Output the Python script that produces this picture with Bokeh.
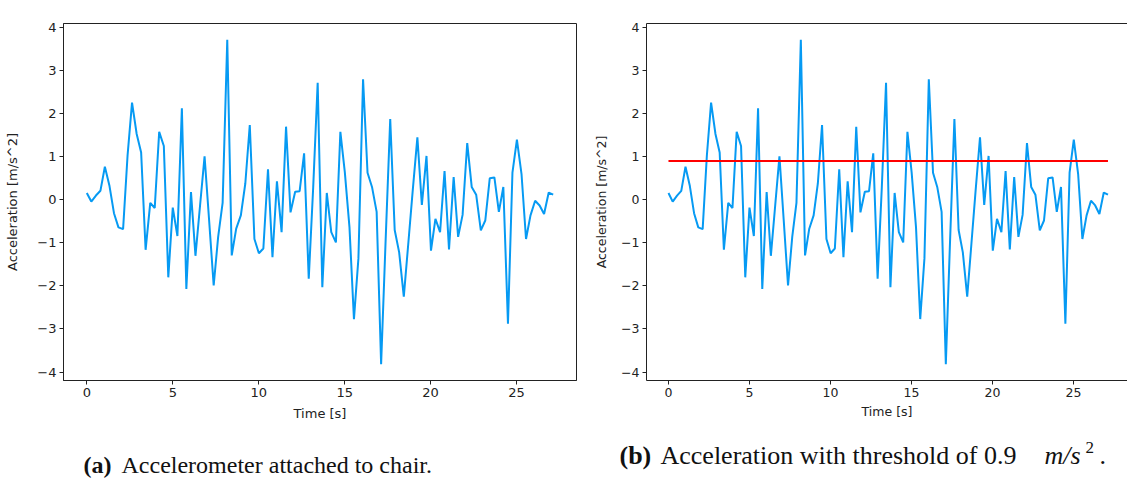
from bokeh.plotting import figure
from bokeh.layouts import column, row
from bokeh.models import Range1d, FixedTicker, LinearAxis
from bokeh.core.properties import value
from bokeh.embed import file_html
from bokeh.resources import INLINE

# ---- data ----
time_s = [0.00, 0.26, 0.53, 0.79, 1.05, 1.32, 1.58, 1.84, 2.11, 2.37,
          2.63, 2.90, 3.16, 3.42, 3.69, 3.95, 4.21, 4.48, 4.74, 5.00,
          5.27, 5.53, 5.79, 6.06, 6.32, 6.59, 6.85, 7.11, 7.38, 7.64,
          7.90, 8.17, 8.43, 8.69, 8.96, 9.22, 9.48, 9.75, 10.01, 10.27,
          10.54, 10.80, 11.06, 11.33, 11.59, 11.85, 12.12, 12.38, 12.64, 12.91,
          13.17, 13.43, 13.70, 13.96, 14.22, 14.49, 14.75, 15.01, 15.28, 15.54,
          15.80, 16.07, 16.33, 16.59, 16.86, 17.12, 17.38, 17.65, 17.91, 18.17,
          18.44, 18.70, 18.96, 19.23, 19.49, 19.76, 20.02, 20.28, 20.55, 20.81,
          21.07, 21.34, 21.60, 21.86, 22.13, 22.39, 22.65, 22.92, 23.18, 23.44,
          23.71, 23.97, 24.23, 24.50, 24.76, 25.02, 25.29, 25.55, 25.81, 26.08,
          26.34, 26.60, 26.87, 27.13]
accel = [0.16, -0.04, 0.10, 0.21, 0.77, 0.32, -0.31, -0.64, -0.68, 1.03,
         2.26, 1.53, 1.10, -1.16, -0.07, -0.19, 1.58, 1.25, -1.80, -0.18,
         -0.84, 2.13, -2.07, 0.18, -1.30, -0.12, 1.01, -0.45, -1.99, -0.86,
         -0.07, 3.72, -1.29, -0.67, -0.36, 0.38, 1.74, -0.91, -1.24, -1.13,
         0.71, -1.33, 0.43, -0.75, 1.70, -0.29, 0.19, 0.20, 1.08, -1.83,
         0.30, 2.72, -2.03, 0.16, -0.75, -0.99, 1.58, 0.64, -0.64, -2.77,
         -1.36, 2.80, 0.63, 0.30, -0.28, -3.82, -0.97, 1.88, -0.70, -1.22,
         -2.25, -1.02, 0.22, 1.45, -0.12, 1.02, -1.18, -0.44, -0.75, 0.67,
         -1.15, 0.53, -0.86, -0.35, 1.32, 0.30, 0.12, -0.71, -0.48, 0.50,
         0.52, -0.28, 0.30, -2.88, 0.63, 1.40, 0.59, -0.91, -0.36, -0.02,
         -0.13, -0.33, 0.17, 0.12]
threshold = 0.9
x_ticks = [0, 5, 10, 15, 20, 25]
y_ticks = [-4, -3, -2, -1, 0, 1, 2, 3, 4]
x_label = "Time [s]"
y_label = "Acceleration [m/s^2]"

LINE = "#069AF3"
span_t = max(time_s) - min(time_s)
span_a = max(accel) - min(accel)
x0 = min(time_s) - 0.05 * span_t
x1 = max(time_s) + 0.05 * span_t
y0 = min(accel) - 0.05 * span_a
y1 = max(accel) + 0.05 * span_a

overrides = {t: ("\u2212%d" % abs(t) if t < 0 else str(t)) for t in y_ticks}


def style(p, fs):
    p.xgrid.visible = False
    p.ygrid.visible = False
    for ax in (p.xaxis[0], p.yaxis[0]):
        ax.major_tick_in = 0
        ax.major_tick_out = 4
        ax.minor_tick_line_color = None
        ax.major_label_standoff = 3
        ax.axis_line_color = "#222222"
        ax.major_tick_line_color = "#222222"
        ax.major_label_text_font = "DejaVu Sans"
        ax.major_label_text_font_size = fs
        ax.major_label_text_color = "#222222"
        ax.axis_label_text_font = "DejaVu Sans"
        ax.axis_label_text_font_size = fs
        ax.axis_label_text_font_style = "normal"
        ax.axis_label_text_color = "#222222"
    p.xaxis[0].ticker = FixedTicker(ticks=x_ticks)
    p.yaxis[0].ticker = FixedTicker(ticks=y_ticks)
    p.yaxis[0].major_label_overrides = overrides
    p.xaxis[0].axis_label = x_label
    p.yaxis[0].axis_label = y_label


TOP_H = 438

# ---- left panel (a) ----
pa = figure(width=590, height=TOP_H, output_backend="svg", toolbar_location=None,
            x_range=Range1d(x0, x1), y_range=Range1d(y0, y1),
            min_border_left=63, min_border_right=14, min_border_top=10,
            min_border_bottom=TOP_H - 391)
style(pa, "13px")
pa.xaxis[0].axis_label_standoff = 6
pa.yaxis[0].axis_label_standoff = 14
pa.outline_line_color = "#222222"
pa.outline_line_alpha = 1
pa.line(time_s, accel, line_color=LINE, line_width=2)

# ---- right panel (b) ----
pb = figure(width=537, height=TOP_H, output_backend="svg", toolbar_location=None,
            x_range=Range1d(x0, x0 + 481 / 16.2), y_range=Range1d(y0, y1),
            min_border_left=56, min_border_right=0, min_border_top=23,
            min_border_bottom=TOP_H - 380)
style(pb, "12.5px")
pb.xaxis[0].axis_label_standoff = 4
pb.yaxis[0].axis_label_standoff = 9
pb.outline_line_color = None
top_ax = LinearAxis(ticker=FixedTicker(ticks=[]), major_tick_line_color=None,
                    minor_tick_line_color=None, major_label_text_alpha=0,
                    axis_line_color="#222222")
pb.add_layout(top_ax, "above")
pb.line(time_s, accel, line_color=LINE, line_width=2)
pb.line([min(time_s), max(time_s)], [threshold, threshold], line_color="#ff0000", line_width=2)

# ---- captions ----
pc = figure(width=1127, height=485 - TOP_H, output_backend="svg", toolbar_location=None,
            x_range=Range1d(0, 1127), y_range=Range1d(485 - TOP_H, 0),
            min_border=0)
pc.axis.visible = False
pc.grid.visible = False
pc.outline_line_color = None
serif = value("Liberation Serif")
FS_A = "24px"
FS_B = "26px"
pc.text(x=[83], y=[26], text=["(a)"], text_font=serif, text_font_size=FS_A,
        text_font_style="bold", text_baseline="middle", text_align="left", text_color="#111111")
pc.text(x=[121], y=[26], text=["Accelerometer attached to chair."], text_font=serif,
        text_font_size=FS_A, text_baseline="middle", text_align="left", text_color="#111111")
pc.text(x=[619], y=[17], text=["(b)"], text_font=serif, text_font_size=FS_B,
        text_font_style="bold", text_baseline="middle", text_align="left", text_color="#111111")
pc.text(x=[660], y=[17], text=["Acceleration with threshold of 0.9"], text_font=serif,
        text_font_size=FS_B, text_baseline="middle", text_align="left", text_color="#111111")
pc.text(x=[1044], y=[17], text=["m/s"], text_font=serif,
        text_font_size=FS_B, text_font_style="italic", text_baseline="middle",
        text_align="left", text_color="#111111")
pc.text(x=[1085], y=[9], text=["2"], text_font=serif,
        text_font_size="17px", text_baseline="middle", text_align="left", text_color="#111111")
pc.text(x=[1099], y=[17], text=["."], text_font=serif,
        text_font_size=FS_B, text_baseline="middle", text_align="left", text_color="#111111")

layout = column(row(pa, pb), pc)
open("out.html", "w").write(file_html(layout, INLINE))
